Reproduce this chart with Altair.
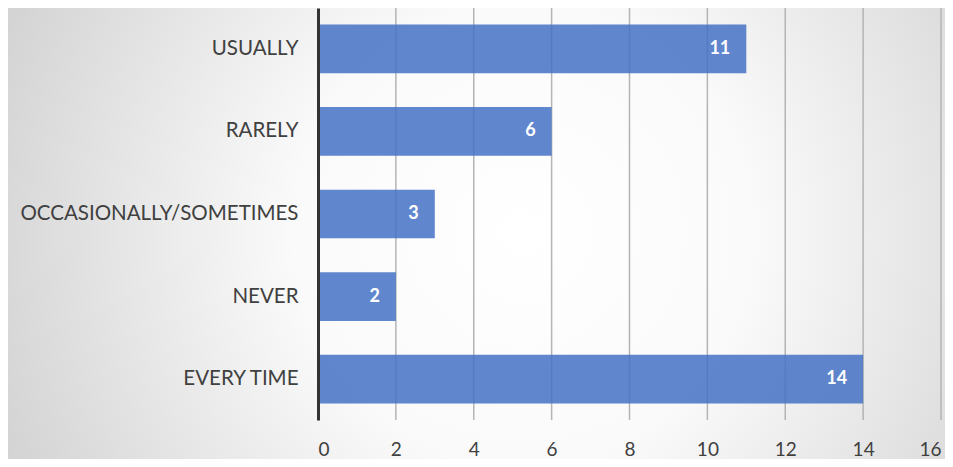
import altair as alt
import pandas as pd

categories = ["USUALLY", "RARELY", "OCCASIONALLY/SOMETIMES", "NEVER", "EVERY TIME"]
values = [11, 6, 3, 2, 14]
x_ticks = [0, 2, 4, 6, 8, 10, 12, 14, 16]

df = pd.DataFrame({"cat": categories, "val": values})
ticks_df = pd.DataFrame({"t": x_ticks[1:]})
bg_df = pd.DataFrame({"k": [0]})

W, H = 623, 412
PAD = {"left": 310, "top": 0, "right": 4, "bottom": 39}

gradient = {
    "gradient": "radial",
    "x1": 0.55, "y1": 0.5, "r1": 0,
    "x2": 0.55, "y2": 0.5, "r2": 0.7,
    "stops": [
        {"offset": 0, "color": "#ffffff"},
        {"offset": 0.35, "color": "#fafafa"},
        {"offset": 1, "color": "#c8c8c8"},
    ],
}

xscale = alt.Scale(domain=[0, 16], nice=False)

bg = alt.Chart(bg_df).mark_rect(color=gradient, clip=False).encode(
    x=alt.value(-PAD["left"]),
    x2=alt.value(W + PAD["right"]),
    y=alt.value(0),
    y2=alt.value(H + PAD["bottom"]),
)

grid = alt.Chart(ticks_df).mark_rule(color="#b4b4b4", strokeWidth=1.5).encode(
    x=alt.X("t:Q", scale=xscale),
    y=alt.value(0),
    y2=alt.value(H),
)

xs = alt.X(
    "val:Q",
    scale=xscale,
    axis=alt.Axis(
        values=x_ticks, title=None, domain=False, ticks=False,
        grid=False, zindex=1,
        labelFont="Lato", labelFontSize=19, labelColor="#404040",
        labelBaseline="middle", labelPadding=29,
    ),
)
ys = alt.Y(
    "cat:N",
    sort=categories,
    scale=alt.Scale(paddingInner=0.41, paddingOuter=0.2),
    axis=alt.Axis(
        title=None, ticks=False, domain=True, domainColor="#333333",
        domainWidth=3, grid=False, zindex=1, labelLimit=400,
        labelFont="Lato", labelFontSize=20.5, labelColor="#404040",
        labelPadding=20,
    ),
)

bars = alt.Chart(df).mark_bar(color="#4472C4", opacity=0.85).encode(x=xs, y=ys)
labels = alt.Chart(df).mark_text(
    align="right", dx=-16, color="white", fontWeight="bold",
    font="Lato", fontSize=18, baseline="middle",
).encode(x="val:Q", y=alt.Y("cat:N", sort=categories), text="val:Q")

chart = alt.layer(bg, grid, bars, labels).properties(
    width=W, height=H,
    autosize=alt.AutoSizeParams(type="none"),
    padding=PAD,
).configure_view(stroke=None)

chart.save("out.html", embed_options={"renderer": "svg", "actions": False})
